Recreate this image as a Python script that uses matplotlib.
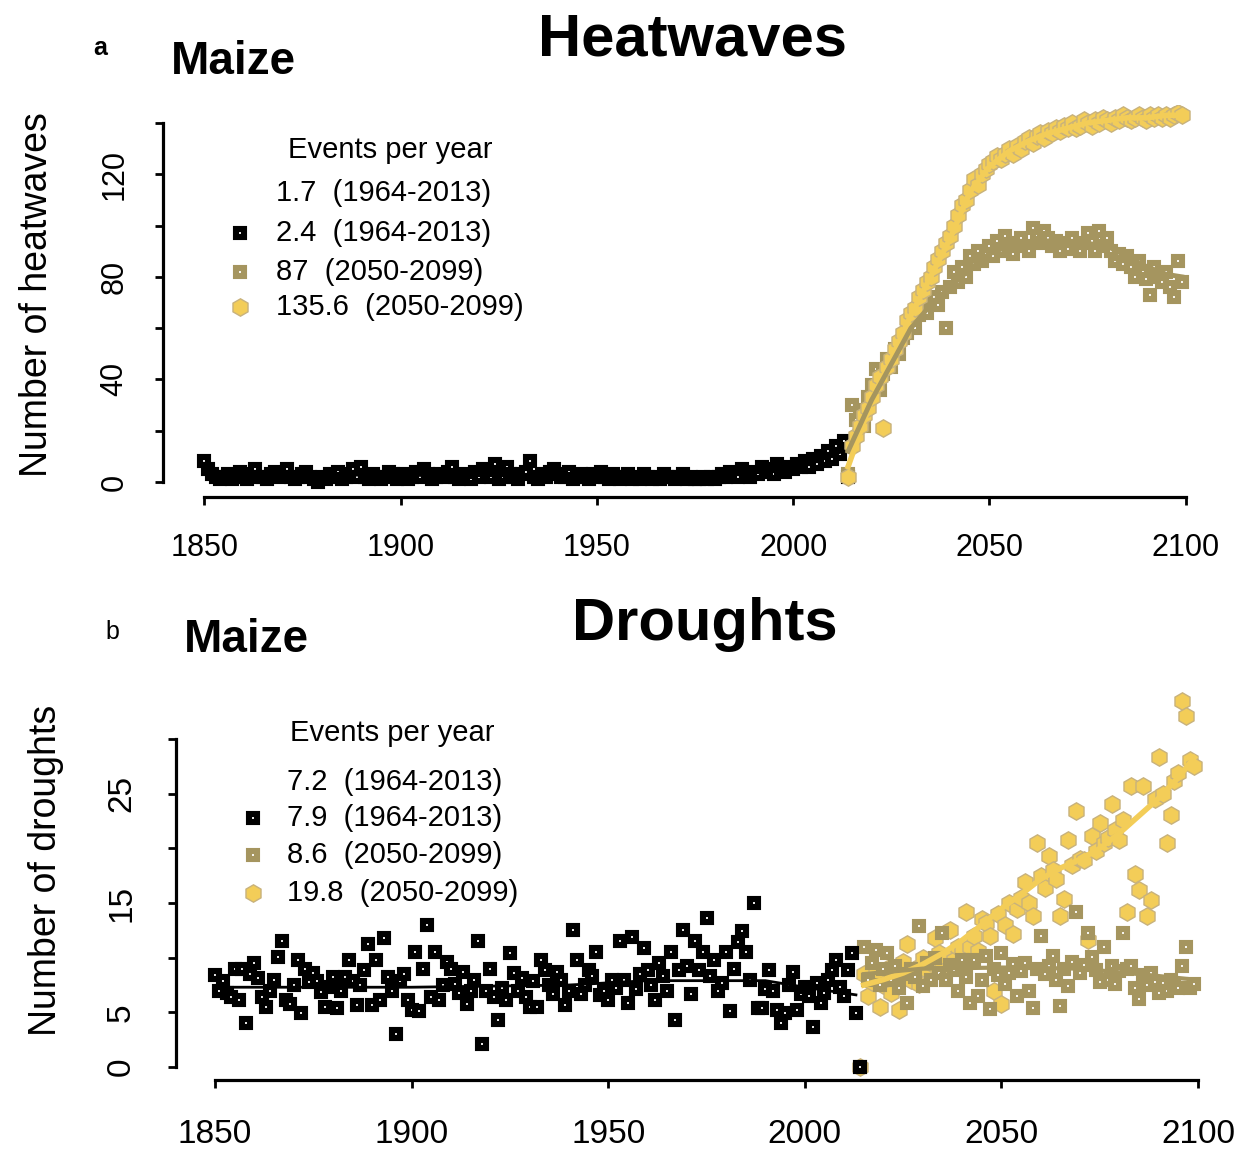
import numpy as np
import matplotlib
matplotlib.use("Agg")
import matplotlib.pyplot as plt
from matplotlib.lines import Line2D

plt.rcParams['font.family'] = ['Liberation Sans', 'DejaVu Sans']

# ---------------- data ----------------
# heatwaves, historical 1850-2014
heat_hist = [8, 5, 3, 2, 1, 2, 3, 1, 2, 4,
             2, 1, 3, 5, 2, 2, 1, 3, 4, 2,
             3, 5, 2, 1, 2, 3, 4, 2, 1, 0,
             2, 1, 3, 2, 4, 1, 2, 3, 5, 2,
             6, 2, 1, 3, 2, 1, 2, 4, 3, 1,
             2, 3, 1, 2, 4, 2, 5, 3, 1, 2,
             3, 2, 4, 6, 2, 1, 3, 2, 1, 4,
             2, 5, 3, 2, 7, 1, 2, 6, 3, 2,
             1, 3, 4, 8, 2, 1, 3, 2, 4, 5,
             3, 2, 2, 4, 1, 2, 3, 2, 1, 3,
             2, 4, 2, 1, 3, 2, 1, 2, 3, 1,
             2, 1, 3, 2, 1, 2, 1, 3, 2, 2,
             1, 2, 3, 1, 2, 1, 1, 2, 1, 2,
             1, 2, 3, 2, 4, 3, 2, 5, 3, 2,
             4, 3, 6, 4, 5, 3, 7, 5, 4, 6,
             5, 7, 6, 8, 6, 9, 7, 10, 8, 12,
             9, 14, 11, 16, 2]
# heatwaves, projections 2014-2099
heat_grey = [3, 30, 24, 28, 22, 33, 38, 44, 36, 42,
             48, 45, 52, 50, 56, 58, 62, 60, 65, 68,
             66, 70, 72, 69, 74, 60, 76, 82, 78, 84,
             80, 88, 85, 90, 86, 89, 92, 88, 94, 90,
             96, 91, 89, 93, 95, 92, 90, 99, 96, 93,
             98, 95, 92, 94, 90, 93, 91, 95, 92, 90,
             93, 97, 94, 90, 98, 92, 95, 90, 86, 89,
             85, 88, 84, 80, 86, 82, 79, 73, 84, 80,
             78, 82, 76, 72, 86, 78]
heat_yellow = [2, 14, 18, 22, 26, 29, 33, 38, 41, 21,
               45, 48, 52, 55, 58, 63, 66, 68, 72, 75,
               78, 80, 84, 87, 90, 93, 96, 100, 104, 108,
               110, 114, 118, 116, 120, 122, 124, 125, 127, 126,
               128, 130, 128, 131, 130, 133, 134, 132, 135, 136,
               134, 137, 136, 138, 137, 139, 138, 140, 138, 139,
               141, 140, 139, 141, 140, 142, 141, 140, 142, 141,
               143, 142, 141, 142, 143, 142, 141, 143, 142, 143,
               142, 143, 142, 143, 144, 143]
# smoothed trends (knots)
heat_hist_trend_x = [1850, 1900, 1950, 1975, 1990, 2000, 2013]
heat_hist_trend_y = [3.0, 2.6, 2.3, 2.0, 3.5, 6.0, 12.0]
heat_grey_trend_x = [2014, 2020, 2025, 2030, 2035, 2040, 2045, 2050, 2055, 2060, 2065, 2070, 2075, 2080, 2085, 2090, 2095, 2099]
heat_grey_trend_y = [12, 32, 46, 60, 69, 76, 83, 89, 92, 93, 94, 93, 93, 92, 88, 84, 81, 80]
heat_yellow_trend_x = [2014, 2020, 2025, 2030, 2035, 2040, 2045, 2050, 2055, 2060, 2065, 2070, 2075, 2080, 2085, 2090, 2095, 2099]
heat_yellow_trend_y = [6, 32, 48, 65, 80, 95, 113, 123, 129, 133, 136, 138, 140, 141, 142, 142, 143, 143]

# droughts, historical 1850-2014
drought_hist = [8.4, 7.0, 7.9, 6.8, 6.4, 9.0, 6.1, 9.0, 4.0, 8.5,
                9.5, 8.1, 6.4, 5.5, 7.0, 8.0, 10.1, 11.5, 6.1, 5.8,
                7.5, 9.8, 4.9, 9.0, 7.8, 8.6, 7.9, 6.9, 5.5, 7.3,
                8.2, 5.4, 7.0, 8.2, 9.8, 7.9, 5.7, 7.5, 8.9, 11.3,
                5.7, 9.8, 6.1, 11.8, 8.2, 7.0, 3.0, 7.9, 8.5, 6.1,
                5.2, 10.5, 5.1, 9.0, 13.0, 6.4, 10.5, 6.1, 7.5, 9.6,
                9.0, 7.6, 6.8, 8.7, 5.8, 7.0, 8.0, 11.5, 2.1, 7.0,
                9.0, 6.4, 4.3, 7.2, 6.1, 10.4, 8.6, 7.0, 8.1, 6.4,
                5.5, 7.9, 5.5, 9.8, 8.9, 7.5, 6.7, 8.7, 8.0, 5.7,
                7.0, 12.5, 9.8, 6.7, 7.5, 8.9, 8.3, 10.5, 6.6, 7.0,
                6.1, 8.0, 7.2, 11.5, 8.0, 5.9, 11.9, 7.1, 8.5, 10.9,
                8.9, 7.5, 6.1, 9.5, 8.3, 7.0, 10.5, 4.3, 8.9, 12.5,
                9.2, 6.7, 11.5, 8.9, 10.5, 13.6, 8.3, 9.8, 7.0, 7.7,
                10.5, 5.1, 9.0, 11.4, 12.4, 10.5, 8.0, 15.0, 5.4, 5.4,
                7.1, 8.9, 7.0, 5.2, 4.0, 4.9, 7.5, 8.7, 5.2, 6.7,
                7.3, 6.5, 3.7, 7.7, 5.9, 6.8, 8.0, 8.9, 9.8, 7.3,
                6.5, 8.9, 10.4, 4.9, 0.0]
drought_grey = [0.0, 11.0, 8.0, 9.5, 10.7, 7.5, 9.0, 10.4, 8.0, 9.2,
                7.2, 8.5, 5.9, 9.0, 8.2, 12.9, 7.4, 9.5, 8.0, 10.0,
                8.6, 12.3, 8.0, 9.3, 8.9, 7.0, 9.8, 8.2, 5.9, 9.8,
                6.5, 8.0, 10.2, 5.3, 9.0, 8.4, 10.4, 7.6, 8.6, 9.4,
                6.5, 8.8, 9.5, 7.0, 5.4, 9.0, 12.0, 8.5, 9.2, 10.2,
                8.0, 5.6, 9.0, 7.4, 9.6, 14.2, 8.6, 9.3, 12.3, 10.1,
                8.9, 7.8, 11.0, 8.0, 9.2, 7.6, 8.8, 12.3, 9.0, 9.2,
                7.2, 6.2, 8.4, 7.5, 8.6, 7.8, 6.8, 7.7, 7.0, 8.0,
                7.4, 7.2, 9.2, 11.0, 7.2, 7.6]
drought_yellow = [0.0, 8.5, 6.5, 7.8, 8.6, 5.5, 7.5, 9.0, 6.8, 8.2,
                  5.2, 9.6, 11.3, 8.0, 9.0, 7.6, 10.0, 8.9, 9.5, 11.8,
                  10.4, 9.2, 10.1, 12.5, 9.8, 11.0, 10.8, 14.2, 11.0, 12.0,
                  10.6, 13.5, 13.2, 12.0, 7.0, 14.0, 5.8, 13.0, 15.0, 12.2,
                  14.5, 15.5, 16.9, 15.0, 13.8, 20.5, 17.5, 16.4, 19.3, 18.0,
                  17.2, 13.8, 15.4, 20.8, 18.5, 23.4, 19.0, 18.9, 11.6, 21.1,
                  19.8, 22.3, 20.5, 21.0, 24.1, 21.7, 20.8, 22.6, 14.2, 25.7,
                  17.7, 16.2, 25.7, 13.8, 15.3, 24.5, 28.4, 25.0, 20.5, 23.1,
                  26.2, 26.9, 33.5, 32.1, 28.1, 27.5]
drought_hist_trend_x = [1850, 1900, 1940, 1960, 1990, 2000, 2013]
drought_hist_trend_y = [7.3, 7.3, 7.5, 7.9, 7.9, 7.3, 6.6]
drought_grey_trend_x = [2015, 2030, 2050, 2070, 2085, 2099]
drought_grey_trend_y = [8.5, 9.0, 9.1, 9.0, 8.5, 8.0]
drought_yellow_trend_x = [2015, 2020, 2025, 2030, 2035, 2040, 2045, 2050, 2055, 2060, 2065, 2070, 2075, 2080, 2085, 2090, 2095, 2099]
drought_yellow_trend_y = [7.5, 8.0, 8.6, 9.4, 10.4, 11.6, 13.0, 14.5, 15.8, 17.2, 18.2, 19.0, 20.0, 21.4, 23.0, 24.6, 26.5, 28.3]

heat_legend = ["1.7  (1964-2013)", "2.4  (1964-2013)", "87  (2050-2099)", "135.6  (2050-2099)"]
drought_legend = ["7.2  (1964-2013)", "7.9  (1964-2013)", "8.6  (2050-2099)", "19.8  (2050-2099)"]

# ---------------- styles ----------------
W, H = 1240, 1152
black = "black"
grey = "#a5955f"
yellow = "#f3cd58"
yellow_edge = "#c8b27c"

sq_black = dict(ls="none", marker="s", ms=6.2, mew=4.4, mfc="white", mec=black)
sq_grey = dict(ls="none", marker="s", ms=6.2, mew=4.4, mfc="white", mec=grey)
hex_yellow = dict(ls="none", marker="h", ms=12.5, mew=1.0, mfc=yellow, mec=yellow_edge)


def fx(px):
    return px / W


def fy(py):
    return 1 - py / H


fig = plt.figure(figsize=(W / 100, H / 100), dpi=100)


def setup(ax, ylim, yticks, ylabels, ybound, tick_fs, ypad, xpad):
    ax.set_xlim(1839.5, 2110)
    ax.set_ylim(*ylim)
    for s in ["top", "right"]:
        ax.spines[s].set_visible(False)
    for s in ["left", "bottom"]:
        ax.spines[s].set_linewidth(2.3)
    ax.spines["left"].set_bounds(*ybound)
    ax.spines["bottom"].set_bounds(1850, 2100)
    ax.set_xticks([1850, 1900, 1950, 2000, 2050, 2100])
    ax.set_yticks(yticks)
    ax.set_yticklabels(ylabels)
    ax.tick_params(axis="both", length=6, width=2, labelsize=tick_fs)
    ax.tick_params(axis="x", pad=xpad)
    ax.tick_params(axis="y", pad=ypad)
    for lab in ax.get_yticklabels():
        lab.set_rotation(90)
        lab.set_va("center")
        lab.set_ha("right")


def legend_block(title, labels, x_title, y_title, x_mark, x_text, ys, fs):
    fig.text(fx(x_title), fy(y_title), title, fontsize=fs, ha="center", va="center")
    styles = [None, sq_black, sq_grey, hex_yellow]
    for lab, y, st in zip(labels, ys, styles):
        fig.text(fx(x_text), fy(y), lab, fontsize=fs, ha="left", va="center")
        if st is not None:
            fig.add_artist(Line2D([fx(x_mark)], [fy(y)], transform=fig.transFigure, **st))


# ---------------- panel a: heatwaves ----------------
ax1 = fig.add_axes([fx(163), fy(497), fx(1225 - 163), (497 - 105) / H])
yrs_hist = np.arange(1850, 1850 + len(heat_hist))
yrs_fut = np.arange(2014, 2014 + len(heat_grey))
ax1.plot(yrs_hist, heat_hist, **sq_black, zorder=3)
ax1.plot(yrs_fut, heat_grey, **sq_grey, zorder=3)
ax1.plot(np.arange(2014, 2014 + len(heat_yellow)), heat_yellow, **hex_yellow, zorder=4)
ax1.plot(heat_hist_trend_x, heat_hist_trend_y, color=black, lw=2, zorder=5)
ax1.plot(heat_yellow_trend_x, heat_yellow_trend_y, color=yellow, lw=4, zorder=5)
ax1.plot(heat_grey_trend_x, heat_grey_trend_y, color=grey, lw=3.5, zorder=6)
setup(ax1, (-5.85, 147), range(0, 141, 20), ["0", "", "40", "", "80", "", "120", ""],
      (0, 140), 22, 18, 20)
ax1.set_ylabel("Number of heatwaves", fontsize=27)
ax1.yaxis.set_label_coords(fx(55 - 163) / fx(1225 - 163), (497 - 295) / (497 - 105))

fig.text(fx(693), fy(40), "Heatwaves", fontsize=43, fontweight="bold", ha="center", va="center")
fig.text(fx(233), fy(62), "Maize", fontsize=33, fontweight="bold", ha="center", va="center")
fig.text(fx(100), fy(48), "a", fontsize=18, fontweight="bold", ha="center", va="center")
legend_block("Events per year", heat_legend, 390, 150, 240, 276, [193, 233, 272, 307], 21)

# ---------------- panel b: droughts ----------------
ax2 = fig.add_axes([fx(176), fy(1080), fx(1237 - 176), (1080 - 690) / H])
yrs_hist_b = np.arange(1850, 1850 + len(drought_hist))
ax2.plot(np.arange(2014, 2014 + len(drought_yellow)), drought_yellow, **hex_yellow, zorder=3)
ax2.plot(np.arange(2014, 2014 + len(drought_grey)), drought_grey, **sq_grey, zorder=4)
ax2.plot(yrs_hist_b, drought_hist, **sq_black, zorder=4)
ax2.plot(drought_hist_trend_x, drought_hist_trend_y, color=black, lw=2, zorder=5)
ax2.plot(drought_yellow_trend_x, drought_yellow_trend_y, color=yellow, lw=4, zorder=5)
ax2.plot(drought_grey_trend_x, drought_grey_trend_y, color=grey, lw=3, zorder=5)
setup(ax2, (-1.19, 34.5), range(0, 31, 5), ["0", "5", "", "15", "", "25", ""],
      (0, 30), 24, 22, 22)
ax2.set_xlim(1840.1, 2109.9)
ax2.set_ylabel("Number of droughts", fontsize=27)
ax2.yaxis.set_label_coords(fx(64 - 176) / fx(1237 - 176), (1080 - 870) / (1080 - 690))

fig.text(fx(705), fy(625), "Droughts", fontsize=43, fontweight="bold", ha="center", va="center")
fig.text(fx(246), fy(640), "Maize", fontsize=33, fontweight="bold", ha="center", va="center")
fig.text(fx(112), fy(632), "b", fontsize=18, ha="center", va="center")
legend_block("Events per year", drought_legend, 392, 733, 253, 287, [782, 818, 855, 893], 21)

fig.savefig("out.png", dpi=100)
